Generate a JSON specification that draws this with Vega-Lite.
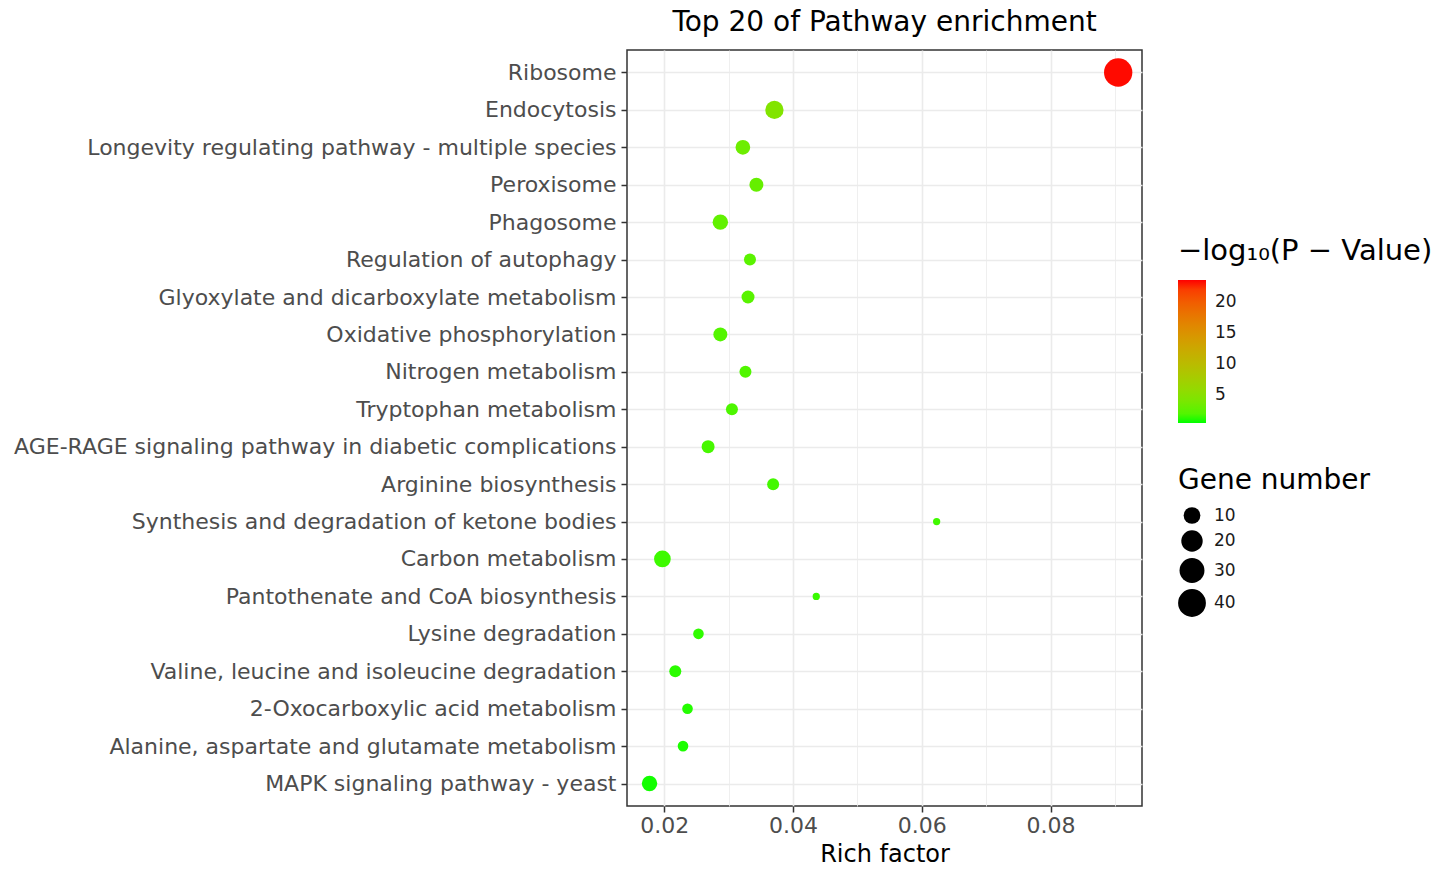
{
  "$schema": "https://vega.github.io/schema/vega-lite/v6.json",
  "autosize": {"type": "none"},
  "padding": {"left": 627, "top": 50, "right": 310, "bottom": 65},
  "width": 515,
  "height": 756,
  "background": "white",
  "title": {
    "text": "Top 20 of Pathway enrichment",
    "fontSize": 28,
    "font": "DejaVu Sans",
    "fontWeight": "normal",
    "color": "#000000",
    "anchor": "middle",
    "offset": 13
  },
  "data": {
    "values": [
      {"pathway": "Ribosome", "rich": 0.0905, "logp": 23.4, "genes": 42},
      {"pathway": "Endocytosis", "rich": 0.0371, "logp": 4.5, "genes": 13},
      {"pathway": "Longevity regulating pathway - multiple species", "rich": 0.0322, "logp": 3.2, "genes": 7},
      {"pathway": "Peroxisome", "rich": 0.0343, "logp": 2.8, "genes": 6},
      {"pathway": "Phagosome", "rich": 0.0287, "logp": 2.6, "genes": 8},
      {"pathway": "Regulation of autophagy", "rich": 0.0333, "logp": 2.3, "genes": 4},
      {"pathway": "Glyoxylate and dicarboxylate metabolism", "rich": 0.0330, "logp": 2.2, "genes": 5},
      {"pathway": "Oxidative phosphorylation", "rich": 0.0287, "logp": 2.0, "genes": 6},
      {"pathway": "Nitrogen metabolism", "rich": 0.0326, "logp": 1.9, "genes": 4},
      {"pathway": "Tryptophan metabolism", "rich": 0.0305, "logp": 1.8, "genes": 4},
      {"pathway": "AGE-RAGE signaling pathway in diabetic complications", "rich": 0.0268, "logp": 1.6, "genes": 5},
      {"pathway": "Arginine biosynthesis", "rich": 0.0369, "logp": 1.5, "genes": 4},
      {"pathway": "Synthesis and degradation of ketone bodies", "rich": 0.0623, "logp": 1.4, "genes": 2},
      {"pathway": "Carbon metabolism", "rich": 0.0197, "logp": 1.3, "genes": 10},
      {"pathway": "Pantothenate and CoA biosynthesis", "rich": 0.0436, "logp": 1.2, "genes": 2},
      {"pathway": "Lysine degradation", "rich": 0.0253, "logp": 1.0, "genes": 3},
      {"pathway": "Valine, leucine and isoleucine degradation", "rich": 0.0217, "logp": 0.9, "genes": 4},
      {"pathway": "2-Oxocarboxylic acid metabolism", "rich": 0.0236, "logp": 0.8, "genes": 3},
      {"pathway": "Alanine, aspartate and glutamate metabolism", "rich": 0.0229, "logp": 0.7, "genes": 3},
      {"pathway": "MAPK signaling pathway - yeast", "rich": 0.0177, "logp": 0.6, "genes": 8}
    ]
  },
  "mark": {"type": "circle", "opacity": 1, "strokeWidth": 0},
  "encoding": {
    "x": {
      "field": "rich",
      "type": "quantitative",
      "scale": {"domain": [0.0142, 0.0942], "nice": false, "zero": false},
      "axis": {
        "title": "Rich factor",
        "values": [0.02, 0.03, 0.04, 0.05, 0.06, 0.07, 0.08, 0.09],
        "format": ".2f",
        "labelExpr": "round(datum.value*100) % 2 == 0 ? datum.label : ''",
        "labelFontSize": 22,
        "labelFont": "DejaVu Sans",
        "labelColor": "#4D4D4D",
        "labelPadding": 3,
        "tickColor": "#333333",
        "tickSize": 6,
        "tickWidth": 1.5,
        "tickOpacity": {"condition": {"test": "round(datum.value*100) % 2 == 1", "value": 0}, "value": 1},
        "grid": true,
        "gridColor": "#EBEBEB",
        "gridWidth": {"condition": {"test": "round(datum.value*100) % 2 == 1", "value": 0.8}, "value": 1.6},
        "domain": false,
        "titleFontSize": 24,
        "titleFont": "DejaVu Sans",
        "titleFontWeight": "normal",
        "titleColor": "#000000",
        "titlePadding": 6
      }
    },
    "y": {
      "field": "pathway",
      "type": "nominal",
      "sort": null,
      "scale": {"type": "point", "padding": 0.6},
      "axis": {
        "title": null,
        "labelFontSize": 22,
        "labelFont": "DejaVu Sans",
        "labelColor": "#4D4D4D",
        "labelPadding": 5,
        "labelLimit": 700,
        "tickColor": "#333333",
        "tickSize": 6,
        "tickWidth": 1.5,
        "grid": true,
        "gridColor": "#EBEBEB",
        "gridWidth": 1.6,
        "domain": false
      }
    },
    "color": {
      "field": "logp",
      "type": "quantitative",
      "scale": {"domain": [0.5, 23.5], "range": ["#00FF00", "#FF0000"], "interpolate": "lab"},
      "legend": {
        "title": "−log₁₀(P − Value)",
        "orient": "none",
        "legendX": 551,
        "legendY": 187,
        "direction": "vertical",
        "gradientLength": 143,
        "gradientThickness": 28,
        "gradientStrokeWidth": 0,
        "values": [5, 10, 15, 20],
        "labelFontSize": 17,
        "labelFont": "DejaVu Sans",
        "labelColor": "#1A1A1A",
        "labelOffset": 9,
        "titleFontSize": 29,
        "titleFont": "DejaVu Sans",
        "titleFontWeight": "normal",
        "titleColor": "#000000",
        "titlePadding": 14,
        "titleLimit": 400
      }
    },
    "size": {
      "field": "genes",
      "type": "quantitative",
      "scale": {"domain": [2, 3, 4, 6, 10, 20, 30, 42], "range": [53, 113, 144, 195, 280, 459, 621, 804]},
      "legend": {
        "title": "Gene number",
        "orient": "none",
        "legendX": 551,
        "legendY": 417,
        "values": [10, 20, 30, 40],
        "symbolFillColor": "#000000",
        "symbolStrokeWidth": 0,
        "symbolOpacity": 1,
        "labelFontSize": 17,
        "labelFont": "DejaVu Sans",
        "labelColor": "#1A1A1A",
        "labelOffset": 8,
        "rowPadding": 6,
        "titleFontSize": 28,
        "titleFont": "DejaVu Sans",
        "titleFontWeight": "normal",
        "titleColor": "#000000",
        "titlePadding": 12,
        "titleLimit": 400
      }
    }
  },
  "config": {
    "view": {"stroke": "#333333", "strokeWidth": 1.5}
  }
}
